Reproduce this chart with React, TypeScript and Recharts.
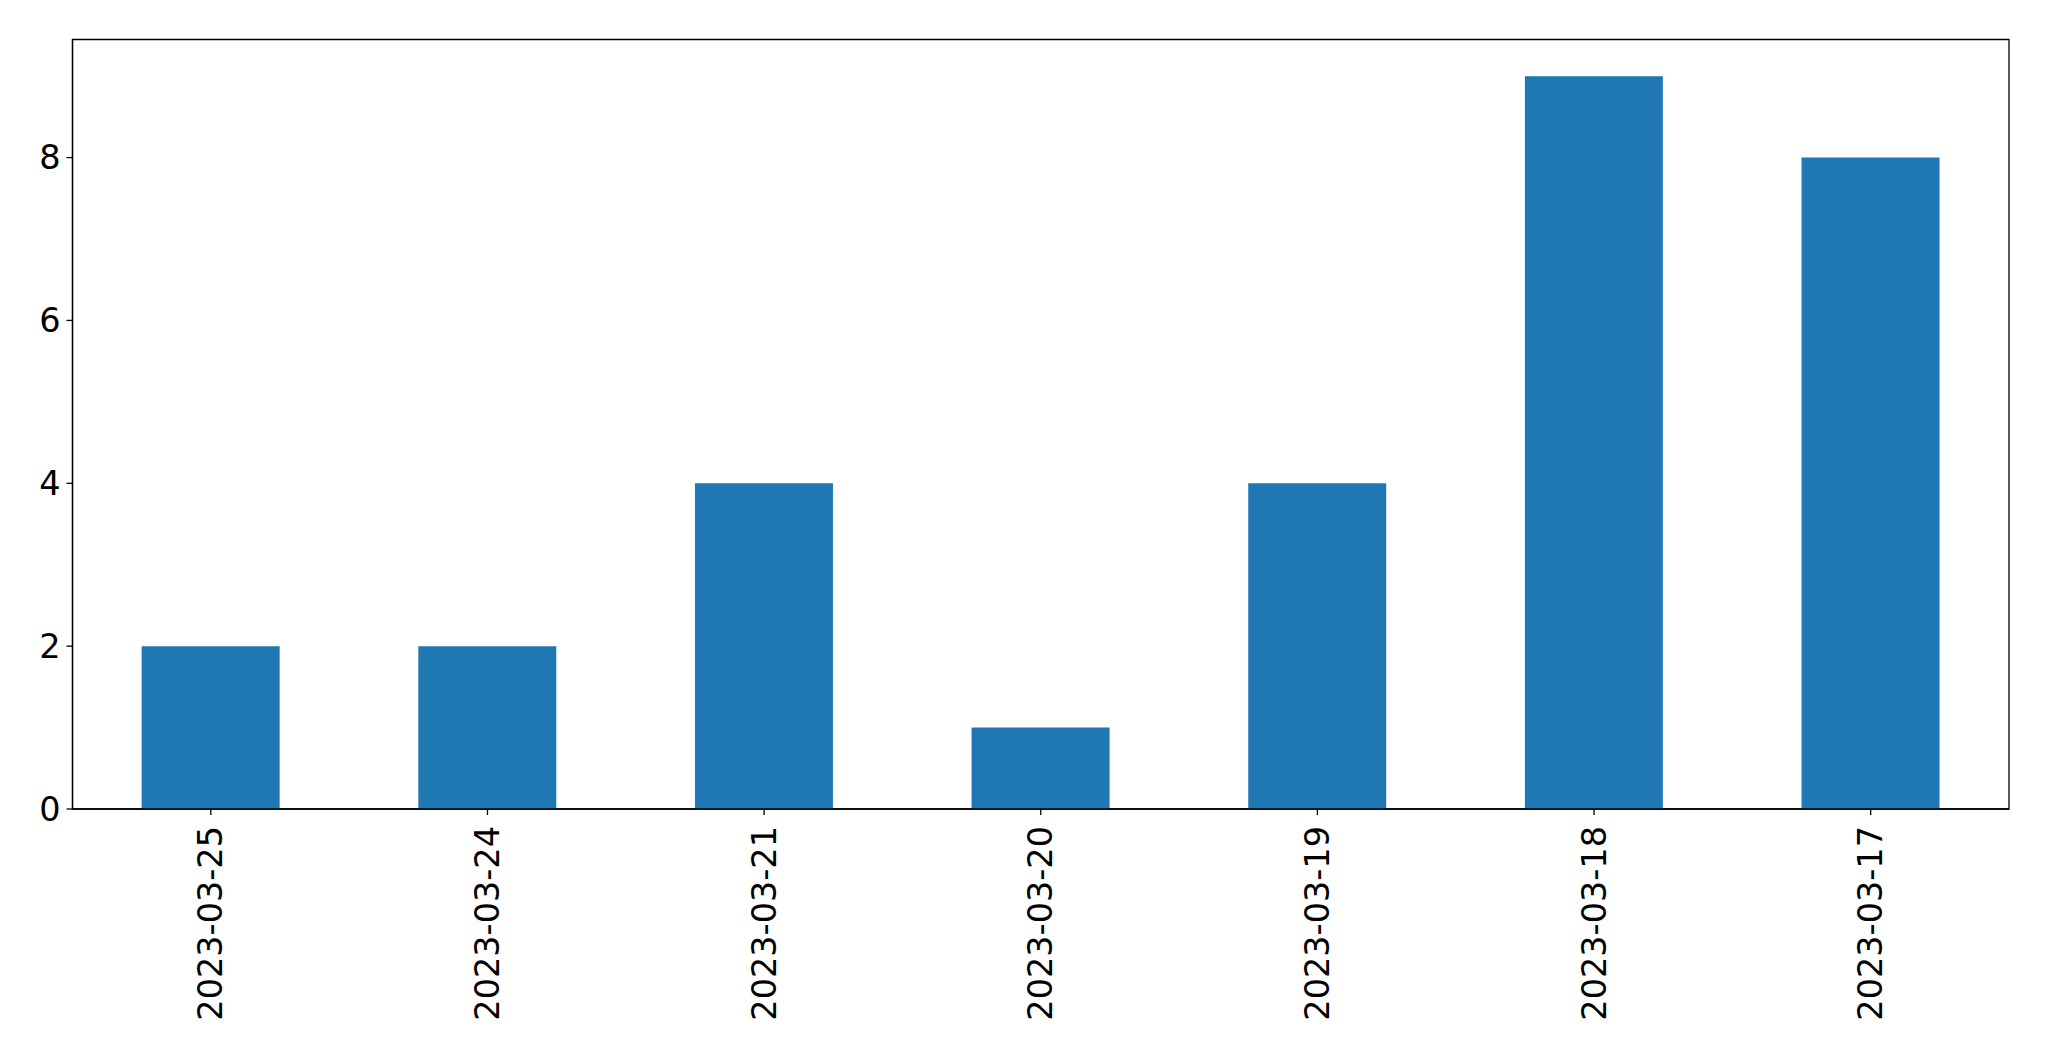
import React from 'react';
import { BarChart, Bar, XAxis, YAxis, ReferenceArea } from 'recharts';

const dates = ['2023-03-25', '2023-03-24', '2023-03-21', '2023-03-20', '2023-03-19', '2023-03-18', '2023-03-17'];
const counts = [2, 2, 4, 1, 4, 9, 8];
const yTicks = [0, 2, 4, 6, 8];
const yMax = 9.45;

const data = dates.map((date, i) => ({ date, count: counts[i] }));

const FONT = '"DejaVu Sans", sans-serif';
const FONT_SIZE = 33.5;

const DateTick = ({ x, y, payload }: any) => (
  <g transform={`translate(${x},${y})`}>
    <text
      transform="rotate(-90)"
      textAnchor="end"
      dominantBaseline="central"
      fill="#000"
      fontSize={FONT_SIZE}
      fontFamily={FONT}
    >
      {payload.value}
    </text>
  </g>
);

const App: React.FC = () => {
  return (
    <div style={{ position: 'absolute', left: 0, top: 0, background: '#fff' }}>
      <BarChart
        width={2049}
        height={1061}
        data={data}
        margin={{ top: 39.5, right: 40, bottom: 0, left: 0 }}
        barCategoryGap="25%"
      >
        <XAxis
          dataKey="date"
          height={252}
          stroke="#000"
          strokeWidth={1.3}
          tickSize={6}
          tickMargin={11}
          tick={<DateTick />}
          interval={0}
        />
        <YAxis
          width={72.5}
          domain={[0, yMax]}
          ticks={yTicks}
          stroke="#000"
          strokeWidth={1.3}
          tickSize={6}
          tickMargin={6}
          tick={{ fill: '#000', fontSize: FONT_SIZE, fontFamily: FONT }}
        />
        <Bar dataKey="count" fill="#1f77b4" isAnimationActive={false} />
        <ReferenceArea y1={0} y2={yMax} fill="none" fillOpacity={0} stroke="#000" strokeWidth={1.3} ifOverflow="visible" />
      </BarChart>
    </div>
  );
};

export default App;
